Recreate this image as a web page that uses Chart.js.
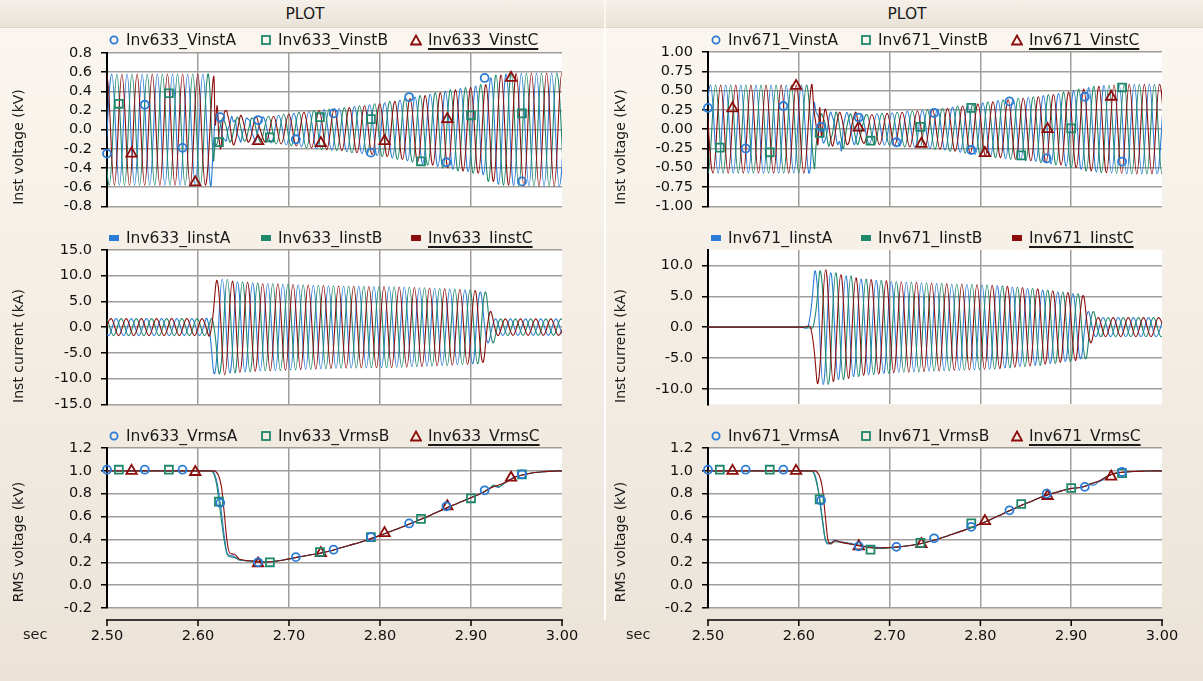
<!DOCTYPE html>
<html><head><meta charset="utf-8">
<script src="https://cdn.jsdelivr.net/npm/chart.js@4.4.1/dist/chart.umd.min.js"></script>
<style>
html,body{margin:0;padding:0;}
body{width:1203px;height:681px;overflow:hidden;font-family:'DejaVu Sans',sans-serif;color:#1a1a1a;}
#root{position:relative;width:1203px;height:681px;background:linear-gradient(180deg,#fbf7f0 0%,#f4eee5 45%,#ebe3d8 100%);}
.bar{position:absolute;top:0;height:27px;background:linear-gradient(180deg,#f5f0e9,#e9e2d7);border-bottom:1px solid #ddd5ca;}
.ttl{position:absolute;top:5px;font-size:15.5px;transform:translateX(-50%);line-height:18px;}
.sep{position:absolute;top:28px;width:2px;height:592px;background:#fff;}
.lg{position:absolute;font-size:15.5px;white-space:nowrap;line-height:18px;z-index:5;}
.lg svg{position:absolute;left:-18px;top:3px;}
.u{text-decoration:underline;text-decoration-thickness:1.5px;text-underline-offset:3px;}
.yt{position:absolute;font-size:14px;white-space:nowrap;transform:translate(-50%,-50%) rotate(-90deg);line-height:16px;}
.sec{position:absolute;font-size:14.5px;line-height:16px;}
canvas{position:absolute;}
</style>
</head><body><div id="root"></div>
<script>
// ---------------- DATA ----------------
const xTicks = [2.5, 2.6, 2.7, 2.8, 2.9, 3.0];
const yTicksV633 = [-0.8, -0.6, -0.4, -0.2, 0.0, 0.2, 0.4, 0.6, 0.8];
const yTicksI633 = [-15, -10, -5, 0, 5, 10, 15];
const yTicksV671 = [-1.0, -0.75, -0.5, -0.25, 0.0, 0.25, 0.5, 0.75, 1.0];
const yTicksI671 = [-10, -5, 0, 5, 10];
const yTicksRms = [-0.2, 0.0, 0.2, 0.4, 0.6, 0.8, 1.0, 1.2];

const namesV633 = ['Inv633_VinstA', 'Inv633_VinstB', 'Inv633_VinstC'];
const namesI633 = ['Inv633_IinstA', 'Inv633_IinstB', 'Inv633_IinstC'];
const namesR633 = ['Inv633_VrmsA', 'Inv633_VrmsB', 'Inv633_VrmsC'];
const namesV671 = ['Inv671_VinstA', 'Inv671_VinstB', 'Inv671_VinstC'];
const namesI671 = ['Inv671_IinstA', 'Inv671_IinstB', 'Inv671_IinstC'];
const namesR671 = ['Inv671_VrmsA', 'Inv671_VrmsB', 'Inv671_VrmsC'];

// time of first positive peak of phase A (B and C lag by 1/3 and 2/3 cycle)
const tPkV633 = 2.5053, tPkI633 = 2.5100, tPkV671 = 2.5028, tPkI671 = 2.5018;

// peak amplitude envelopes, one value per half cycle (t = 2.50 + j/120, j = 0..60)
const envV633 = [0.58,0.58,0.58,0.58,0.58,0.58,0.58,0.58,0.58,0.58,0.58,0.58,0.58,0.58,0.58,0.12,0.12,0.12,0.12,0.12,
  0.13,0.14,0.15,0.16,0.17,0.18,0.19,0.20,0.21,0.215,
  0.22,0.23,0.24,0.25,0.26,0.27,0.28,0.295,0.31,0.325,
  0.34,0.355,0.37,0.385,0.40,0.415,0.43,0.44,0.455,0.47,
  0.54,0.57,0.58,0.585,0.59,0.59,0.59,0.59,0.59,0.59,0.59];
const envV671 = [0.57,0.57,0.57,0.57,0.57,0.57,0.57,0.57,0.57,0.57,0.57,0.57,0.57,0.57,0.57,0.18,0.18,0.18,0.18,0.18,
  0.18,0.19,0.20,0.205,0.21,0.22,0.23,0.235,0.24,0.25,
  0.26,0.27,0.285,0.30,0.31,0.325,0.34,0.355,0.37,0.38,
  0.39,0.40,0.41,0.42,0.435,0.45,0.465,0.48,0.50,0.52,
  0.54,0.555,0.565,0.57,0.575,0.58,0.58,0.58,0.58,0.58,0.58];
const envI633 = [1.65,1.65,1.65,1.65,1.65,1.65,1.65,1.65,1.65,1.65,1.65,1.65,1.65,1.65,
  9.0,9.3,8.9,8.8,8.7,8.6,
  8.5,8.5,8.45,8.4,8.3,8.25,8.2,8.15,8.1,8.05,
  8.0,8.0,7.95,7.95,7.9,7.9,7.9,7.85,7.8,7.8,
  7.7,7.65,7.6,7.5,7.45,7.4,7.3,7.25,7.1,6.8,
  3.0,1.6,1.6,1.6,1.6,1.6,1.6,1.6,1.6,1.6,1.6];
const envI671 = [0,0,0,0,0,0,0,0,0,0,0,0,0,0,
  9.0,9.3,8.8,8.5,8.3,8.0,
  7.8,7.7,7.6,7.5,7.4,7.35,7.3,7.25,7.2,7.15,
  7.1,7.05,7.0,7.0,6.95,6.9,6.85,6.8,6.7,6.6,
  6.5,6.4,6.3,6.2,6.0,5.9,5.7,5.6,5.4,5.1,
  2.5,1.55,1.55,1.55,1.55,1.55,1.55,1.55,1.55,1.55,1.55];

// explicit samples during the fault transient (2.617 .. 2.667 s)
const FAULT_FROM = 2.616, FAULT_TO = 2.668;
const tFault = [2.617,2.619,2.621,2.623,2.625,2.627,2.629,2.631,2.633,2.635,2.637,2.639,2.641,2.643,2.645,2.647,2.649,2.651,2.653,2.655,2.657,2.659,2.661,2.663,2.665,2.667];
const fV633A = [-0.15,0.12,0.16,0.08,0.06,-0.08,-0.10,-0.12,0.01,0.05,0.14,0.08,0.10,-0.04,-0.08,-0.13,-0.03,0.02,0.12,0.11,0.09,-0.03,-0.07,-0.13,-0.05,0.03];
const fV633B = [-0.32,-0.16,-0.15,-0.04,0.06,0.12,0.09,0.03,-0.06,-0.13,-0.10,-0.02,0.07,0.13,0.10,0.02,-0.07,-0.12,-0.10,-0.02,0.06,0.12,0.11,0.04,-0.05,-0.10];
const fV633C = [0.55,0.05,0.25,-0.08,-0.20,0.05,0.18,0.20,0.14,0.05,-0.08,-0.16,-0.12,-0.03,0.08,0.15,0.11,0.03,-0.06,-0.13,-0.11,-0.04,0.06,0.13,0.12,0.04];
const fV671A = [0.34,0.22,0.18,0.10,-0.05,-0.18,-0.14,-0.05,0.12,0.22,0.16,0.08,-0.10,-0.20,-0.16,-0.28,0.02,0.15,0.22,0.14,0.02,-0.12,-0.20,-0.14,-0.02,0.12];
const fV671B = [-0.50,-0.22,-0.06,0.10,0.20,0.14,0.08,-0.10,-0.22,-0.14,-0.06,0.10,0.22,0.16,0.02,-0.14,-0.25,-0.12,0.04,0.14,0.20,0.12,-0.02,-0.14,-0.20,-0.12];
const fV671C = [0.22,0.05,-0.20,0.28,-0.10,0.10,0.26,0.18,0.05,-0.12,-0.22,-0.14,0.02,0.15,0.22,0.16,0.04,-0.10,-0.20,-0.18,-0.06,0.08,0.18,0.22,0.10,-0.04];

// RMS voltages
const tRms = [2.500,2.614,2.617,2.620,2.623,2.626,2.629,2.632,2.635,2.640,2.645,2.650,2.660,2.670,2.680,2.690,2.700,2.710,2.720,2.735,2.750,2.765,2.780,2.795,2.810,2.825,2.840,2.855,2.870,2.885,2.900,2.910,2.915,2.920,2.925,2.930,2.935,2.940,2.945,2.950,2.960,2.970,2.980,2.990,3.000];
const rms633A = [1.00,1.00,0.99,0.93,0.80,0.62,0.42,0.28,0.26,0.25,0.22,0.215,0.21,0.205,0.205,0.215,0.23,0.245,0.26,0.28,0.31,0.345,0.38,0.42,0.465,0.51,0.56,0.61,0.665,0.715,0.765,0.80,0.82,0.845,0.87,0.855,0.89,0.905,0.935,0.95,0.97,0.985,0.993,0.998,1.00];
const rms633B = [1.00,1.00,0.98,0.90,0.74,0.55,0.38,0.27,0.25,0.24,0.225,0.215,0.21,0.205,0.205,0.215,0.23,0.245,0.26,0.28,0.31,0.345,0.38,0.42,0.465,0.51,0.56,0.61,0.665,0.715,0.765,0.80,0.82,0.84,0.875,0.86,0.88,0.91,0.93,0.95,0.97,0.985,0.993,0.998,1.00];
const rms633C = [1.00,1.00,1.00,0.99,0.95,0.85,0.62,0.38,0.28,0.27,0.23,0.22,0.21,0.20,0.205,0.215,0.23,0.245,0.26,0.28,0.31,0.345,0.38,0.42,0.465,0.51,0.56,0.61,0.665,0.715,0.765,0.80,0.82,0.845,0.86,0.875,0.89,0.91,0.93,0.95,0.97,0.985,0.993,0.998,1.00];
const rms671A = [1.00,1.00,0.98,0.90,0.74,0.56,0.40,0.36,0.37,0.395,0.38,0.375,0.36,0.345,0.335,0.33,0.33,0.335,0.345,0.365,0.395,0.435,0.475,0.52,0.57,0.625,0.68,0.73,0.78,0.815,0.845,0.855,0.865,0.88,0.875,0.905,0.92,0.95,0.97,0.98,0.99,0.995,0.998,1.0,1.0];
const rms671B = [1.00,1.00,0.97,0.88,0.76,0.58,0.41,0.37,0.37,0.38,0.375,0.37,0.355,0.34,0.325,0.32,0.325,0.335,0.345,0.365,0.395,0.435,0.475,0.52,0.57,0.625,0.68,0.73,0.78,0.815,0.845,0.855,0.865,0.885,0.895,0.91,0.93,0.955,0.97,0.98,0.99,0.995,0.998,1.0,1.0];
const rms671C = [1.00,1.00,1.00,0.99,0.95,0.85,0.62,0.40,0.36,0.39,0.38,0.37,0.355,0.34,0.33,0.325,0.33,0.335,0.345,0.365,0.395,0.435,0.475,0.52,0.57,0.625,0.68,0.73,0.78,0.815,0.845,0.855,0.865,0.88,0.895,0.91,0.93,0.95,0.97,0.98,0.99,0.995,0.998,1.0,1.0];

// marker sample times and values (A circle, B square, C triangle)
const mkTimesA = [2.500,2.5415,2.583,2.6245,2.666,2.7075,2.749,2.790,2.832,2.873,2.915,2.956];
const mkTimesB = [2.513,2.568,2.623,2.679,2.734,2.790,2.845,2.900,2.956];
const mkTimesC = [2.527,2.597,2.666,2.735,2.805,2.874,2.944];
const mkV633A = [-0.25,0.26,-0.19,0.13,0.10,-0.10,0.17,-0.24,0.34,-0.34,0.54,-0.54];
const mkV633B = [0.27,0.38,-0.13,-0.08,0.13,0.11,-0.33,0.15,0.17];
const mkV633C = [-0.25,-0.55,-0.12,-0.14,-0.12,0.11,0.54];
const mkV671A = [0.275,-0.25,0.30,0.03,0.15,-0.17,0.21,-0.27,0.36,-0.38,0.42,-0.42];
const mkV671B = [-0.24,-0.30,-0.05,-0.15,0.03,0.275,-0.34,0.01,0.54];
const mkV671C = [0.27,0.56,0.02,-0.19,-0.31,0.00,0.42];
const mkR633A = [1.01,1.01,1.01,0.72,0.20,0.245,0.31,0.42,0.54,0.69,0.83,0.97];
const mkR633B = [1.01,1.01,0.73,0.20,0.29,0.42,0.58,0.76,0.97];
const mkR633C = [1.00,0.99,0.19,0.28,0.455,0.69,0.94];
const mkR671A = [1.01,1.01,1.01,0.74,0.34,0.335,0.41,0.51,0.655,0.80,0.86,0.99];
const mkR671B = [1.01,1.01,0.75,0.31,0.37,0.54,0.71,0.85,0.98];
const mkR671C = [1.00,1.00,0.34,0.36,0.56,0.78,0.95];

// ---------------- STYLE / BUILD ----------------
const COL = ['#2a7cd6', '#1f876a', '#8c0c0c'];
const GRID = '#a19d99';
const STYLES = ['circle', 'rect', 'triangle'];
const MK_R = [4, 5.6, 6];
Chart.defaults.font.family = 'DejaVu Sans';
Chart.defaults.animation = false;
const root = document.getElementById('root');

function buildWave(env, tPk, p, fault) {
  const pts = [];
  const t1 = tPk + p / 180;
  for (let k = -3; k <= 64; k++) {
    const t = t1 + k / 120;
    if (t < 2.49 || t > 3.01) continue;
    if (fault && t >= FAULT_FROM && t <= FAULT_TO) continue;
    const j = Math.min(env.length - 1, Math.max(0, Math.floor((t - 2.5) * 120)));
    pts.push({ x: t, y: (k % 2 === 0 ? 1 : -1) * env[j] });
  }
  if (fault) fault.forEach((v, i) => pts.push({ x: tFault[i], y: v }));
  pts.sort((a, b) => a.x - b.x);
  return pts;
}
const zip = (ts, vs) => ts.map((t, i) => ({ x: t, y: vs[i] }));

function lineDs(pts, p, tension, mode) {
  return { data: pts, borderColor: COL[p], borderWidth: 1.1, pointRadius: 0, tension: tension,
           cubicInterpolationMode: mode || 'default', fill: false, order: 2 - p };
}
function markDs(pts, p) {
  return { data: pts, showLine: false, pointStyle: STYLES[p], pointRadius: MK_R[p], pointHoverRadius: MK_R[p],
           pointBorderColor: COL[p], pointBackgroundColor: 'rgba(0,0,0,0)', pointBorderWidth: 1.8,
           borderColor: COL[p], order: -1, clip: false };
}

const bgPlugin = { id: 'plotBg', beforeDraw(c) {
  const a = c.chartArea, x = c.ctx; x.save(); x.fillStyle = '#ffffff';
  x.fillRect(a.left, a.top, a.right - a.left, a.bottom - a.top); x.restore(); } };
const belowAxis = { id: 'belowAxis', afterDraw(c) {
  if (!c.$bottom) return;
  const s = c.scales.x, a = c.chartArea, ctx = c.ctx, y = a.bottom + 12;
  ctx.save(); ctx.strokeStyle = '#000'; ctx.lineWidth = 1.5; ctx.beginPath();
  ctx.moveTo(a.left - 1, y); ctx.lineTo(a.right + 1, y);
  xTicks.forEach(v => { const px = s.getPixelForValue(v); ctx.moveTo(px, y); ctx.lineTo(px, y + 6); });
  ctx.stroke(); ctx.restore(); } };

function makeChart(o) {
  const cv = document.createElement('canvas');
  cv.width = o.w; cv.height = o.h;
  cv.style.left = o.x + 'px'; cv.style.top = o.y + 'px';
  cv.style.width = o.w + 'px'; cv.style.height = o.h + 'px';
  root.appendChild(cv);
  const ch = new Chart(cv.getContext('2d'), {
    type: 'line',
    data: { datasets: o.datasets },
    options: {
      responsive: false, animation: false, devicePixelRatio: 1,
      layout: { padding: o.pad },
      plugins: { legend: { display: false }, tooltip: { enabled: false } },
      scales: {
        x: { type: 'linear', min: 2.5, max: 3.0,
          afterBuildTicks: s => { s.ticks = xTicks.map(v => ({ value: v })); },
          afterFit: s => { s.height = o.bottom ? 48 : 0; },
          ticks: { display: !!o.bottom, callback: v => Number(v).toFixed(2), padding: 20,
                   font: { size: 14.5 }, color: '#111', maxRotation: 0, autoSkip: false },
          grid: { color: c => (c.tick && c.tick.value > 2.999) ? 'rgba(0,0,0,0)' : GRID, lineWidth: 1.5, drawTicks: false },
          border: { display: false } },
        y: { type: 'linear', min: o.yMin, max: o.yMax,
          afterBuildTicks: s => { s.ticks = o.yTicks.map(v => ({ value: v })); },
          afterFit: s => { s.width = 107; },
          ticks: { callback: v => Number(v).toFixed(o.dec), padding: 9, font: { size: 14.5 }, color: '#111', autoSkip: false },
          grid: { color: GRID, lineWidth: 1.5, tickLength: 6, tickColor: '#000', tickWidth: 1.5 },
          border: { display: true, color: '#000', width: 2 } }
      }
    },
    plugins: [bgPlugin, belowAxis]
  });
  ch.$bottom = !!o.bottom; ch.draw();
  return ch;
}

function legend(textX, yc, names, filled) {
  names.forEach((n, i) => {
    const d = document.createElement('div');
    d.className = 'lg'; d.style.left = textX[i] + 'px'; d.style.top = (yc - 9) + 'px';
    let m;
    if (filled) m = `<rect x="1" y="3" width="10" height="6" fill="${COL[i]}"/>`;
    else if (i === 0) m = `<circle cx="6" cy="6" r="3.6" fill="none" stroke="${COL[0]}" stroke-width="1.8"/>`;
    else if (i === 1) m = `<rect x="2" y="2" width="8" height="8" fill="none" stroke="${COL[1]}" stroke-width="1.8"/>`;
    else m = `<polygon points="6,1.5 11,10.5 1,10.5" fill="none" stroke="${COL[2]}" stroke-width="1.8" stroke-linejoin="miter"/>`;
    d.innerHTML = `<svg width="12" height="12">${m}</svg><span class="${i === 2 ? 'u' : ''}">${n}</span>`;
    root.appendChild(d);
  });
}
function addDiv(cls, html, x, y, extra) {
  const d = document.createElement('div'); d.className = cls; d.innerHTML = html;
  d.style.left = x + 'px'; d.style.top = y + 'px'; if (extra) Object.assign(d.style, extra);
  root.appendChild(d); return d;
}

// panel chrome
addDiv('bar', '', 0, 0, { width: '604px' });
addDiv('bar', '', 606, 0, { width: '597px' });
addDiv('ttl', 'PLOT', 305, 5);
addDiv('ttl', 'PLOT', 907, 5);
addDiv('sep', '', 604, 28);

const panels = [
  { cx: 0, cw: 604, padR: 42, tx: [126, 278, 428], ax: 18, secX: 23,
    names: [namesV633, namesI633, namesR633], tPkV: tPkV633, tPkI: tPkI633,
    envV: envV633, envI: envI633, fV: [fV633A, fV633B, fV633C],
    vMin: -0.8, vMax: 0.8, vTicks: yTicksV633, vDec: 1, iMin: -15, iMax: 15, iTicks: yTicksI633,
    rms: [rms633A, rms633B, rms633C], mkV: [mkV633A, mkV633B, mkV633C], mkR: [mkR633A, mkR633B, mkR633C], vTop: 25 },
  { cx: 601, cw: 602, padR: 41, tx: [728, 878, 1029], ax: 620, secX: 626,
    names: [namesV671, namesI671, namesR671], tPkV: tPkV671, tPkI: tPkI671,
    envV: envV671, envI: envI671, fV: [fV671A, fV671B, fV671C],
    vMin: -1.0, vMax: 1.0, vTicks: yTicksV671, vDec: 2, iMin: -12.5, iMax: 12.5, iTicks: yTicksI671,
    rms: [rms671A, rms671B, rms671C], mkV: [mkV671A, mkV671B, mkV671C], mkR: [mkR671A, mkR671B, mkR671C], vTop: 24 }
];
const mkT = [mkTimesA, mkTimesB, mkTimesC];

panels.forEach(P => {
  // voltage
  const vds = [0, 1, 2].map(p => lineDs(buildWave(P.envV, P.tPkV, p, P.fV[p]), p, 0.4));
  [0, 1, 2].forEach(p => vds.push(markDs(zip(mkT[p], P.mkV[p]), p)));
  makeChart({ x: P.cx, y: 28, w: P.cw, h: 196, pad: { left: 0, right: P.padR, top: P.vTop, bottom: 12 },
    yMin: P.vMin, yMax: P.vMax, yTicks: P.vTicks, dec: P.vDec, datasets: vds });
  // current
  const ids = [0, 1, 2].map(p => lineDs(buildWave(P.envI, P.tPkI, p, null), p, 0.4));
  makeChart({ x: P.cx, y: 226, w: P.cw, h: 196, pad: { left: 0, right: P.padR, top: 24, bottom: 12 },
    yMin: P.iMin, yMax: P.iMax, yTicks: P.iTicks, dec: 1, datasets: ids });
  // rms
  const rds = [0, 1, 2].map(p => lineDs(zip(tRms, P.rms[p]), p, 0.4, 'monotone'));
  [0, 1, 2].forEach(p => rds.push(markDs(zip(mkT[p], P.mkR[p]), p)));
  makeChart({ x: P.cx, y: 424, w: P.cw, h: 232, pad: { left: 0, right: P.padR, top: 24, bottom: 0 },
    yMin: -0.2, yMax: 1.2, yTicks: yTicksRms, dec: 1, datasets: rds, bottom: true });

  legend(P.tx, 40, P.names[0], false);
  legend(P.tx, 238, P.names[1], true);
  legend(P.tx, 436, P.names[2], false);
  addDiv('yt', 'Inst voltage (kV)', P.ax, 147);
  addDiv('yt', 'Inst current (kA)', P.ax, 346);
  addDiv('yt', 'RMS voltage (kV)', P.ax, 542);
  addDiv('sec', 'sec', P.secX, 626);
});
</script></body></html>
